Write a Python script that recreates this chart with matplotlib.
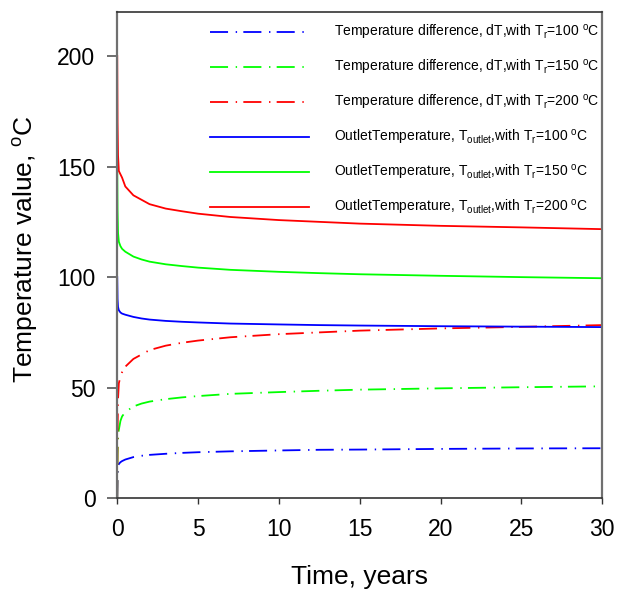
import matplotlib
matplotlib.use("Agg")
import matplotlib.pyplot as plt

plt.rcParams['font.family'] = ['Liberation Sans', 'DejaVu Sans']
plt.rcParams['mathtext.fontset'] = 'custom'
plt.rcParams['mathtext.rm'] = 'Liberation Sans'
plt.rcParams['mathtext.it'] = 'Liberation Sans'
plt.rcParams['mathtext.bf'] = 'Liberation Sans:bold'
plt.rcParams['lines.scale_dashes'] = False

# time, years
t = [0, 0.02, 0.05, 0.1, 0.2, 0.3, 0.5, 1, 1.5, 2, 3, 4, 5, 7, 10, 12.5, 15, 20, 25, 30]

# Outlet temperatures
tout_100 = [100, 90, 86.5, 85, 84, 83.5, 83, 82, 81.3, 80.8, 80.2, 79.8, 79.5, 79, 78.6, 78.3, 78.1, 77.8, 77.6, 77.4]
tout_150 = [150, 130, 120, 116, 114, 112.8, 111.5, 109.3, 108, 107, 105.8, 105, 104.3, 103.3, 102.4, 101.8, 101.3, 100.6, 100, 99.5]
tout_200 = [200, 170, 155, 148, 146.5, 145, 141, 137, 135, 133, 131, 129.8, 128.7, 127.2, 125.8, 125, 124.2, 123.2, 122.5, 121.7]

# Temperature differences
dt_100 = [0, 10, 14, 15.5, 16.3, 16.8, 17.5, 18.6, 19.2, 19.6, 20.1, 20.5, 20.8, 21.2, 21.6, 21.9, 22.0, 22.3, 22.5, 22.6]
dt_150 = [0, 20, 28, 31, 35, 37, 39, 41.5, 42.8, 43.7, 44.8, 45.6, 46.2, 47.2, 48, 48.6, 49.1, 49.7, 50.2, 50.6]
dt_200 = [0, 30, 45, 52, 55, 57, 59.5, 63, 65, 67, 69, 70.3, 71.3, 72.8, 74.2, 75, 75.8, 76.8, 77.5, 78.3]

labels = [
    r"Temperature difference, dT,with T$_{\mathrm{r}}$=100 $^{\mathrm{o}}$C",
    r"Temperature difference, dT,with T$_{\mathrm{r}}$=150 $^{\mathrm{o}}$C",
    r"Temperature difference, dT,with T$_{\mathrm{r}}$=200 $^{\mathrm{o}}$C",
    r"OutletTemperature, T$_{\mathrm{outlet}}$,with T$_{\mathrm{r}}$=100 $^{\mathrm{o}}$C",
    r"OutletTemperature, T$_{\mathrm{outlet}}$,with T$_{\mathrm{r}}$=150 $^{\mathrm{o}}$C",
    r"OutletTemperature, T$_{\mathrm{outlet}}$,with T$_{\mathrm{r}}$=200 $^{\mathrm{o}}$C",
]

fig = plt.figure(figsize=(6.17, 5.91), dpi=100)
ax = fig.add_axes([0.19, 0.157, 0.786, 0.823])

dash = (0, (13, 5.5, 1.0, 4.5))
lw = 1.3
ax.plot(t, dt_100, color='#0000ff', linestyle=dash, lw=lw, label=labels[0])
ax.plot(t, dt_150, color='#00ff00', linestyle=dash, lw=lw, label=labels[1])
ax.plot(t, dt_200, color='#ff0000', linestyle=dash, lw=lw, label=labels[2])
ax.plot(t, tout_100, color='#0000ff', lw=lw, label=labels[3])
ax.plot(t, tout_150, color='#00ff00', lw=lw, label=labels[4])
ax.plot(t, tout_200, color='#ff0000', lw=lw, label=labels[5])

ax.set_xlim(0, 30)
ax.set_ylim(0, 220)
ax.set_xticks([0, 5, 10, 15, 20, 25, 30])
ax.set_yticks([0, 50, 100, 150, 200])
ax.tick_params(axis='y', direction='out', length=7.2, width=1.2, pad=8.5,
               labelsize=16.5, colors='#555555', labelcolor='black')
ax.tick_params(axis='x', direction='out', length=4.5, width=1.0, pad=10,
               labelsize=16.5, colors='#333333', labelcolor='black')
ax.tick_params(top=False, right=False)

for side in ['left', 'right']:
    ax.spines[side].set_color('#707070')
    ax.spines[side].set_linewidth(1.6)
for side in ['top', 'bottom']:
    ax.spines[side].set_color('#333333')
    ax.spines[side].set_linewidth(1.2)

ax.set_xlabel("Time, years", fontsize=19)
ax.set_ylabel(r"Temperature value, $^{\mathrm{o}}$C", fontsize=19)
ax.xaxis.set_label_coords(0.5, -0.138)
ax.yaxis.set_label_coords(-0.16, 0.512)

leg = ax.legend(loc='upper right', bbox_to_anchor=(1.016, 1.0), frameon=False,
                fontsize=10, handlelength=7.1, handletextpad=1.8,
                labelspacing=1.15, borderaxespad=0.4)

fig.savefig("out.png", dpi=100)
